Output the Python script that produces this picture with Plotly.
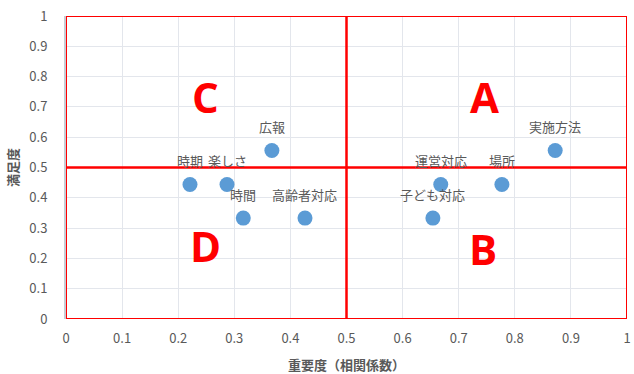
import plotly.graph_objects as go

names = ["実施方法", "場所", "運営対応", "子ども対応", "広報", "時期", "楽しさ", "時間", "高齢者対応"]
importance = [0.872, 0.777, 0.668, 0.654, 0.367, 0.221, 0.287, 0.316, 0.426]
satisfaction = [0.556, 0.444, 0.444, 0.333, 0.556, 0.444, 0.444, 0.333, 0.333]

quad_letters = ["A", "B", "C", "D"]
quad_x = [0.746, 0.743, 0.248, 0.248]
quad_y = [0.733, 0.234, 0.733, 0.241]
quad_boxes = [(0.5, 1.0, 0.5, 1.0), (0.5, 1.0, 0.0, 0.5), (0.0, 0.5, 0.5, 1.0), (0.0, 0.5, 0.0, 0.5)]

ticks = [round(i * 0.1, 1) for i in range(11)]
tick_text = ["0"] + [f"{t:g}" for t in ticks[1:-1]] + ["1"]

font_family = "Noto Sans CJK JP, Noto Sans, sans-serif"
gray = "#595959"

fig = go.Figure()
fig.add_trace(go.Scatter(
    x=importance, y=satisfaction, mode="markers",
    marker=dict(color="#5B9BD5", size=15),
    cliponaxis=False, showlegend=False,
))

for n, x, y in zip(names, importance, satisfaction):
    fig.add_annotation(x=x, y=y, xref="x", yref="y", text=n, showarrow=False, yshift=24,
                       font=dict(family=font_family, size=13, color=gray))

for (x0, x1, y0, y1) in quad_boxes:
    fig.add_shape(type="rect", xref="x", yref="y", x0=x0, x1=x1, y0=y0, y1=y1,
                  line=dict(color="#FF0000", width=2), fillcolor="rgba(0,0,0,0)")

for L, x, y in zip(quad_letters, quad_x, quad_y):
    fig.add_annotation(x=x, y=y, xref="x", yref="y", text=f"<b>{L}</b>", showarrow=False,
                       font=dict(family="Open Sans, Liberation Sans, sans-serif", size=42, color="#FF0000"))

fig.update_layout(
    width=634, height=374,
    margin=dict(l=66, r=7, t=16, b=55),
    paper_bgcolor="white", plot_bgcolor="white",
    font=dict(family=font_family, color=gray, size=12),
    xaxis=dict(range=[0, 1], tickvals=ticks, ticktext=tick_text, showgrid=True,
               gridcolor="#E3E6EC", zeroline=False, showline=False, fixedrange=True,
               ticklabelstandoff=10, automargin=False,
               title=dict(text="<b>重要度（相関係数）</b>", font=dict(size=13, color=gray), standoff=14),
               tickfont=dict(size=13, color=gray)),
    yaxis=dict(range=[0, 1], tickvals=ticks, ticktext=tick_text, showgrid=True,
               gridcolor="#E3E6EC", zeroline=False, showline=True, linecolor="#C8CCD4", linewidth=2,
               fixedrange=True, automargin=False,
               title=dict(text="<b>満足度</b>", font=dict(size=13, color=gray), standoff=8),
               tickfont=dict(size=13, color=gray), ticklabelstandoff=14),
)

fig.write_html("out.html")
